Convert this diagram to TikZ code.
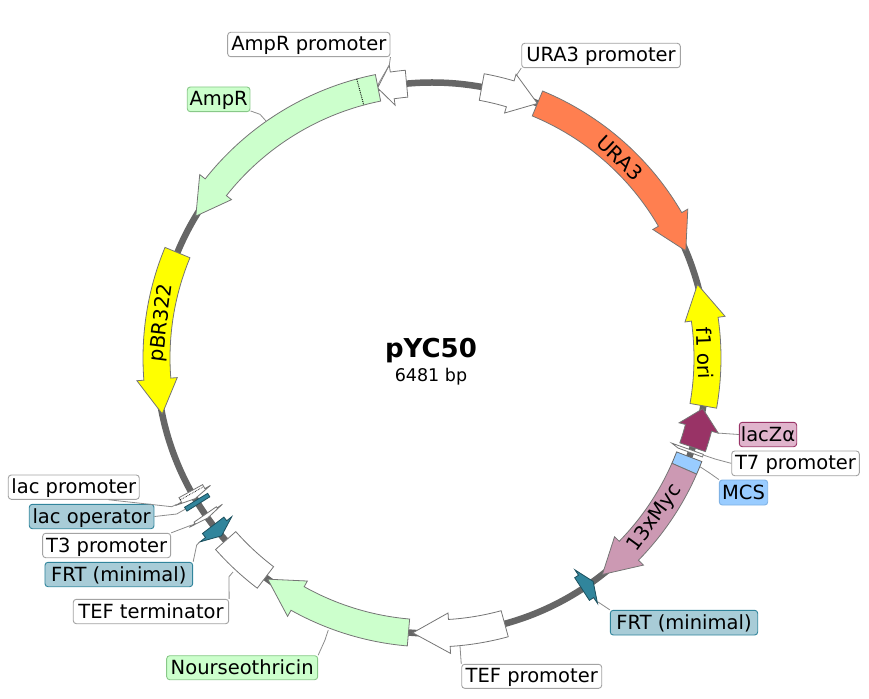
\documentclass[tikz,border=0pt]{standalone}
\usepackage{fontspec}
\setmainfont{DejaVu Sans}
\newfontfamily\labfont{DejaVu Sans}
\usetikzlibrary{calc}
\definecolor{ringc}{HTML}{666666}
\definecolor{edgec}{HTML}{757575}
\definecolor{leadc}{HTML}{8C8C8C}
\definecolor{greenf}{HTML}{CCFFCC}
\definecolor{greene}{HTML}{88C888}
\definecolor{coral}{HTML}{FF7F50}
\definecolor{yellowf}{HTML}{FFFF00}
\definecolor{myc}{HTML}{CC99B3}
\definecolor{lacz}{HTML}{993366}
\definecolor{laczl}{HTML}{E0B4CC}
\definecolor{mcsf}{HTML}{99CCFF}
\definecolor{mcse}{HTML}{7FB2E5}
\definecolor{frtf}{HTML}{31859C}
\definecolor{frtl}{HTML}{A8CCD7}
\tikzset{
  feat/.style={draw=edgec,line width=0.8pt,line join=miter},
  lab/.style={rectangle,rounded corners=3pt,line width=0.9pt,inner sep=0pt,text height=14.5pt,text depth=1.5pt,font=\labfont\fontsize{19.5}{21}\selectfont},
  plainlab/.style={lab,draw=leadc!80,fill=white},
  greenlab/.style={lab,draw=greene,fill=greenf},
  frtlab/.style={lab,draw=frtf,fill=frtl},
  lead/.style={draw=leadc,line width=0.8pt},
  ontext/.style={font=\labfont\fontsize{20}{22}\selectfont,inner sep=0pt}
}
% gene arrow: start angle, shoulder angle, tip angle
\newcommand\gene[4][]{\draw[feat,#1] (#2:289) arc[start angle=#2,end angle=#3,radius=289] -- (#3:296) -- (#4:275.5) -- (#3:255.5) -- (#3:262) arc[start angle=#3,end angle=#2,radius=262] -- cycle;}
\newcommand\band[3][]{\draw[feat,#1] (#2:289) arc[start angle=#2,end angle=#3,radius=289] -- (#3:262) arc[start angle=#3,end angle=#2,radius=262] -- cycle;}
% label box from pixel corners
\newcommand\lab[7]{\node[#6,minimum width={(#4-#2)*1pt},minimum height={(#5-#3)*1pt}] (#1) at ({(#2+#4)/2-432},{358-(#3+#5)/2}) {#7};}
\newcommand\pxc[3]{\coordinate (#1) at ({#2-432},{358-#3});}
\begin{document}
\begin{tikzpicture}[x=1pt,y=1pt]
\useasboundingbox (-432,-340) rectangle (437,358);
% backbone
\node[circle,draw=ringc,line width=6.5pt,minimum size=551pt,inner sep=0pt] (ring) at (0,0) {};
% features
\gene[fill=white]{95.3}{98.3}{101.4}
\gene[fill=white]{79.6}{73.5}{67.5}
\gene[fill=coral]{67.5}{30.2}{22.9}
\gene[fill=greenf]{101.3}{141.7}{149}
\draw[densely dotted,line width=0.9pt,black] (105.1:289) -- (105.1:262);
\gene[fill=yellowf]{157.5}{184.4}{191.7}
\gene[fill=yellowf]{-10}{8.1}{15.5}
\gene[fill=lacz]{-18.9}{-14.7}{-10.6}
\draw[feat,fill=white] (-19.55:288) -- (-19.55:254.5) -- (-20.1:262) -- (-20.1:288) -- cycle;
\band[fill=mcsf,draw=ringc]{-21}{-23.7}
\gene[fill=myc]{-23.7}{-44.4}{-51.8}
\gene[fill=frtf,draw=frtf!60!black]{-57}{-56}{-54.2}
\gene[fill=white]{285.3}{273.6}{266}
\gene[fill=greenf]{265.1}{240.8}{233.4}
\band[fill=white]{221.5}{232.8}
\gene[fill=frtf,draw=frtf!60!black]{217.4}{218.4}{220.2}
\gene[fill=white]{214.6}{214.9}{215.5}
\band[fill=frtf,draw=frtf!60!black]{211.1}{212}
\gene[fill=white]{208.9}{209.9}{210.7}
\draw[densely dotted,line width=0.7pt,black] (209.4:289) -- (209.4:262);
% on-feature texts
\node[ontext,rotate=-43] (tura) at ({620-432},{358-158}) {URA3};
\node[ontext,rotate=83] (tpbr) at ({162-432},{358-323}) {pBR322};
\node[ontext,rotate=-88] (tf1) at ({705-432},{358-353}) {f1 ori};
\node[ontext,rotate=54] (tmyc) at ({655-432},{358-518}) {13xMyc};
% centre
\node[font=\bfseries\fontsize{26}{28}\selectfont,inner sep=0pt] (title) at ({431-432},{358-351}) {pYC50};
\node[font=\labfont\fontsize{17.5}{19}\selectfont,inner sep=0pt] (size) at ({431-432},{358-377}) {6481 bp};
% labels
\lab{lampp}{227.7}{32.3}{390}{56.7}{plainlab}{AmpR promoter}
\lab{lurap}{521.7}{43.3}{680.3}{67.7}{plainlab}{URA3 promoter}
\lab{lamp}{187.3}{87}{250}{111.7}{greenlab}{AmpR}
\lab{llacz}{739.3}{422.3}{796.7}{446.7}{lab,draw=lacz,fill=laczl}{lacZα}
\lab{lt7}{731.7}{451}{859.3}{475.7}{plainlab}{T7 promoter}
\lab{lmcs}{719.3}{480}{767.7}{505}{lab,draw=mcse,fill=mcsf}{MCS}
\lab{llacp}{8.3}{475}{139.3}{499.3}{plainlab}{lac promoter}
\lab{llaco}{29.3}{504.3}{154}{528.7}{frtlab}{lac operator}
\lab{lt3}{42.7}{533.3}{170.7}{557.7}{plainlab}{T3 promoter}
\lab{lfrtl}{45}{562.3}{192.7}{586.7}{frtlab}{FRT (minimal)}
\lab{ltefterm}{73.3}{599.3}{228.7}{623.7}{plainlab}{TEF terminator}
\lab{lnat}{166.7}{655.7}{317.7}{679.7}{greenlab}{Nourseothricin}
\lab{ltefp}{461.7}{664.3}{601.7}{688.3}{plainlab}{TEF promoter}
\lab{lfrtr}{610.3}{610.3}{757.7}{635}{frtlab}{FRT (minimal)}
% connector ends
\pxc{a1}{389.3}{65}\pxc{a2}{377.7}{85}
\pxc{b1}{516}{76}
\pxc{c1}{260}{114.3}\pxc{c2}{266}{121}
\pxc{d1}{717}{433}
\pxc{e1}{715}{459}\pxc{e2}{703.3}{455}
\pxc{f1}{710}{473.3}\pxc{f2}{700}{466.7}
\pxc{g1}{171.7}{506.7}\pxc{g2}{176.7}{504.3}
\pxc{h1}{176.7}{514}\pxc{h2}{185}{509.3}
\pxc{i1}{191.7}{525}
\pxc{j1}{196.7}{545}\pxc{j2}{200}{541.7}
\pxc{k1}{229}{576.7}\pxc{k2}{233}{572}
\pxc{l1}{325}{640}\pxc{l2}{328.3}{630}
\pxc{m1}{460}{646}
\pxc{n1}{600}{603.3}\pxc{n2}{598}{602}
\draw[lead] (lampp.south east) -- (a1) -- (a2);
\draw[lead] (lurap.south west) -- (b1);
\draw[lead] (lamp.-20) -- (c1) -- (c2);
\draw[lead] (llacz.west) -- (d1);
\draw[lead] (lt7.west) -- (e1) -- (e2);
\draw[lead] (lmcs.north west) -- (f1) -- (f2);
\draw[lead] (llacp.-20) -- (g1) -- (g2);
\draw[lead] (llaco.east) -- (h1) -- (h2);
\draw[lead] (lt3.north east) -- (i1);
\draw[lead] (lfrtl.north east) -- (j1) -- (j2);
\draw[lead] (ltefterm.north east) -- (k1) -- (k2);
\draw[lead] (lnat.north east) -- (l1) -- (l2);
\draw[lead] (ltefp.north west) -- (m1);
\draw[lead] (lfrtr.north west) -- (n1) -- (n2);
\end{tikzpicture}
\end{document}
